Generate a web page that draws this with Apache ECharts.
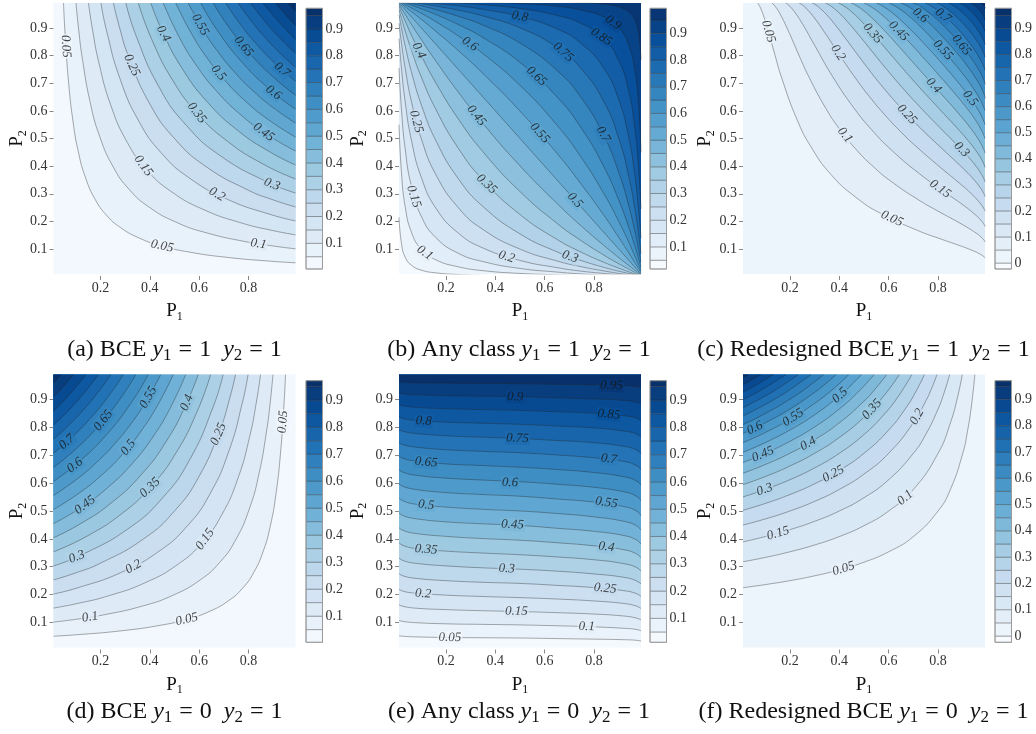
<!DOCTYPE html>
<html><head><meta charset="utf-8">
<script src="https://cdn.jsdelivr.net/npm/echarts@6/dist/echarts.min.js"></script>
<style>html,body{margin:0;padding:0;background:#fff}#c{width:1036px;height:734px}</style>
</head><body><div id="c"></div>
<script>
// ---------------- DATA ----------------
const LEVELS = [0.05,0.1,0.15,0.2,0.25,0.3,0.35,0.4,0.45,0.5,0.55,0.6,0.65,0.7,0.75,0.8,0.85,0.9,0.95];
const X_TICKS = [0.2,0.4,0.6,0.8];
const Y_TICKS = [0.1,0.2,0.3,0.4,0.5,0.6,0.7,0.8,0.9];
const CB_TICKS = [0.1,0.2,0.3,0.4,0.5,0.6,0.7,0.8,0.9];
const CB_TICKS0 = [0,0.1,0.2,0.3,0.4,0.5,0.6,0.7,0.8,0.9];

// (a) BCE y1=1 y2=1 : contour lines [x,y,x,y,...] per level
const A_CURVES = [
[0.0505,0.99,0.0559,0.894,0.0699,0.7155,0.0894,0.559,0.1118,0.447,0.1398,0.3578,0.1789,0.2795,0.2236,0.2236,0.2795,0.1789,0.3578,0.1398,0.447,0.1118,0.559,0.0894,0.7155,0.0699,0.894,0.0559,0.99,0.0505],
[0.101,0.99,0.1129,0.8854,0.1265,0.7906,0.1581,0.6325,0.1976,0.506,0.253,0.3953,0.3162,0.3162,0.3953,0.253,0.506,0.1976,0.6325,0.1581,0.7906,0.1265,0.8854,0.1129,0.99,0.101],
[0.1515,0.99,0.1684,0.8908,0.1936,0.7746,0.2421,0.6197,0.3098,0.4841,0.3873,0.3873,0.4841,0.3098,0.6197,0.2421,0.7746,0.1936,0.8908,0.1684,0.99,0.1515],
[0.202,0.99,0.2236,0.8944,0.2795,0.7155,0.3578,0.559,0.4472,0.4472,0.559,0.3578,0.7155,0.2795,0.8944,0.2236,0.99,0.202],
[0.2525,0.99,0.2778,0.9,0.3125,0.8,0.4,0.625,0.5,0.5,0.625,0.4,0.8,0.3125,0.9,0.2778,0.99,0.2525],
[0.303,0.99,0.3423,0.8763,0.4382,0.6846,0.5477,0.5477,0.6846,0.4382,0.8763,0.3423,0.99,0.303],
[0.3535,0.99,0.408,0.8578,0.493,0.7099,0.5916,0.5916,0.7099,0.493,0.8578,0.408,0.99,0.3535],
[0.404,0.99,0.4518,0.8855,0.527,0.759,0.6325,0.6325,0.759,0.527,0.8855,0.4518,0.99,0.404],
[0.4545,0.99,0.516,0.872,0.5833,0.7714,0.6708,0.6708,0.7714,0.5833,0.872,0.516,0.99,0.4545],
[0.505,0.99,0.5657,0.8839,0.6313,0.792,0.7071,0.7071,0.792,0.6313,0.8839,0.5657,0.99,0.505],
[0.5556,0.99,0.618,0.8899,0.6742,0.8158,0.7416,0.7416,0.8158,0.6742,0.8899,0.618,0.99,0.5556],
[0.6061,0.99,0.6736,0.8908,0.7746,0.7746,0.8908,0.6736,0.99,0.6061],
[0.6566,0.99,0.7198,0.903,0.8062,0.8062,0.903,0.7198,0.99,0.6566],
[0.7071,0.99,0.7676,0.912,0.8367,0.8367,0.912,0.7676,0.99,0.7071],
[0.7576,0.99,0.8093,0.9266,0.866,0.866,0.9266,0.8093,0.99,0.7576],
[0.8081,0.99,0.8518,0.9391,0.8944,0.8944,0.9391,0.8518,0.99,0.8081],
[0.8586,0.99,0.8908,0.9543,0.922,0.922,0.9543,0.8908,0.99,0.8586],
[0.9091,0.99,0.9487,0.9487,0.99,0.9091],
[0.9596,0.99,0.9747,0.9747,0.99,0.9596]];
const A_LABELS = [[0.05,0.06,0.833],[0.05,0.45,0.111],[0.1,0.84,0.119],[0.15,0.374,0.401],[0.2,0.672,0.298],[0.25,0.327,0.765],[0.3,0.895,0.335],[0.35,0.59,0.593],[0.4,0.455,0.879],[0.45,0.861,0.523],[0.5,0.678,0.737],[0.55,0.604,0.911],[0.6,0.901,0.666],[0.65,0.78,0.833],[0.7,0.935,0.749]];
const A_ZRANGE = [0.004,0.977];

// (b) Any class y1=1 y2=1 : shared P1 samples, P2 of each level
const B_X = [0.01,0.02,0.035,0.06,0.1,0.16,0.25,0.35,0.5,0.65,0.75,0.84,0.9,0.94,0.965,0.98,0.99];
const B_Y = [
[0.215,0.12,0.071,0.042,0.024,0.014,0.008,0.005,0.003,0.001,0.001,0.001,0,0,0,0,0],
[0.55,0.377,0.254,0.162,0.1,0.061,0.036,0.022,0.012,0.007,0.004,0.002,0.001,0.001,0,0,0],
[0.755,0.604,0.462,0.328,0.219,0.141,0.085,0.055,0.03,0.017,0.01,0.006,0.004,0.002,0.001,0.001,0],
[0.861,0.754,0.633,0.495,0.36,0.247,0.158,0.104,0.059,0.033,0.02,0.012,0.007,0.004,0.002,0.001,0.001],
[0.917,0.845,0.754,0.635,0.5,0.368,0.25,0.171,0.1,0.057,0.036,0.021,0.012,0.007,0.004,0.002,0.001],
[0.948,0.9,0.835,0.742,0.623,0.491,0.355,0.254,0.155,0.09,0.058,0.034,0.02,0.012,0.007,0.004,0.002],
[0.966,0.934,0.889,0.82,0.723,0.604,0.465,0.35,0.225,0.135,0.088,0.052,0.031,0.018,0.01,0.006,0.003],
[0.978,0.956,0.925,0.874,0.8,0.7,0.571,0.452,0.308,0.193,0.129,0.078,0.047,0.028,0.016,0.009,0.004],
[0.985,0.97,0.949,0.913,0.858,0.779,0.668,0.554,0.401,0.265,0.182,0.113,0.069,0.041,0.024,0.014,0.007],
[0.99,0.98,0.965,0.94,0.9,0.84,0.75,0.65,0.5,0.35,0.25,0.16,0.1,0.06,0.035,0.02,0.01],
[0.993,0.987,0.976,0.959,0.931,0.887,0.818,0.735,0.599,0.446,0.332,0.222,0.142,0.087,0.051,0.03,0.015],
[0.996,0.991,0.984,0.972,0.953,0.922,0.871,0.807,0.692,0.548,0.429,0.3,0.2,0.126,0.075,0.044,0.022],
[0.997,0.994,0.99,0.982,0.969,0.948,0.912,0.865,0.775,0.65,0.535,0.397,0.277,0.18,0.111,0.066,0.034],
[0.998,0.996,0.993,0.988,0.98,0.966,0.942,0.91,0.845,0.746,0.645,0.509,0.377,0.258,0.165,0.1,0.052],
[0.999,0.998,0.996,0.993,0.988,0.979,0.964,0.943,0.9,0.829,0.75,0.632,0.5,0.365,0.246,0.155,0.083],
[0.999,0.999,0.998,0.996,0.993,0.988,0.98,0.967,0.941,0.896,0.842,0.753,0.64,0.505,0.367,0.246,0.139],
[1,0.999,0.999,0.998,0.997,0.994,0.99,0.984,0.97,0.945,0.915,0.86,0.781,0.672,0.538,0.396,0.245],
[1,1,1,0.999,0.999,0.998,0.996,0.993,0.988,0.978,0.964,0.939,0.9,0.838,0.746,0.623,0.45],
[1,1,1,1,1,0.999,0.999,0.999,0.997,0.995,0.992,0.986,0.976,0.958,0.929,0.881,0.785]];
const B_LABELS = [[0.1,0.115,0.087],[0.15,0.07,0.29],[0.2,0.446,0.072],[0.25,0.08,0.561],[0.3,0.703,0.072],[0.35,0.365,0.335],[0.4,0.09,0.818],[0.45,0.324,0.583],[0.5,0.723,0.277],[0.55,0.58,0.52],[0.6,0.297,0.842],[0.65,0.567,0.725],[0.7,0.837,0.515],[0.75,0.675,0.8125],[0.8,0.5,0.941],[0.85,0.83,0.868],[0.9,0.877,0.919]];
const B_ZRANGE = [0.017,0.994];

// (c) Redesigned BCE y1=1 y2=1
const C_CURVES = [
[0.0687,0.9905,0.0731,0.985,0.0826,0.9686,0.0961,0.9363,0.1127,0.8873,0.1347,0.817,0.1672,0.7176,0.2287,0.5686,0.2841,0.4718,0.368,0.368,0.4718,0.2841,0.5686,0.2287,0.7176,0.1672,0.817,0.1347,0.8873,0.1127,0.9363,0.0961,0.9686,0.0826,0.985,0.0731,0.9905,0.0687],
[0.1261,0.9911,0.1318,0.9865,0.1438,0.9738,0.157,0.9555,0.1895,0.8972,0.2381,0.798,0.2764,0.7236,0.3422,0.6137,0.3974,0.5385,0.4642,0.4642,0.5385,0.3974,0.6137,0.3422,0.7236,0.2764,0.798,0.2381,0.8972,0.1895,0.9555,0.157,0.9738,0.1438,0.9865,0.1318,0.9911,0.1261],
[0.1816,0.9912,0.1932,0.9833,0.2058,0.972,0.2195,0.957,0.2521,0.9125,0.2969,0.842,0.3726,0.7246,0.457,0.6127,0.5313,0.5313,0.6127,0.457,0.7246,0.3726,0.842,0.2969,0.9125,0.2521,0.957,0.2195,0.972,0.2058,0.9833,0.1932,0.9912,0.1816],
[0.2372,0.9906,0.2431,0.9873,0.2554,0.979,0.2686,0.968,0.2991,0.9361,0.3384,0.8866,0.3953,0.8095,0.4708,0.7116,0.5218,0.6516,0.5848,0.5848,0.6516,0.5218,0.7116,0.4708,0.8095,0.3953,0.8866,0.3384,0.9361,0.2991,0.968,0.2686,0.979,0.2554,0.9873,0.2431,0.9906,0.2372],
[0.2896,0.9912,0.3053,0.9827,0.3183,0.9738,0.348,0.9482,0.3851,0.9089,0.4359,0.8489,0.5254,0.7423,0.5742,0.688,0.63,0.63,0.688,0.5742,0.7423,0.5254,0.8489,0.4359,0.9089,0.3851,0.9482,0.348,0.9738,0.3183,0.9827,0.3053,0.9912,0.2896],
[0.3432,0.9908,0.3492,0.9881,0.3684,0.9772,0.3979,0.9551,0.4341,0.9215,0.4827,0.8701,0.5639,0.7803,0.6288,0.7109,0.6694,0.6694,0.7109,0.6288,0.7803,0.5639,0.8701,0.4827,0.9215,0.4341,0.9551,0.3979,0.9772,0.3684,0.9881,0.3492,0.9908,0.3432],
[0.3957,0.9907,0.4187,0.9793,0.4483,0.9593,0.4845,0.9288,0.5331,0.8817,0.6155,0.7961,0.6597,0.7503,0.7047,0.7047,0.7503,0.6597,0.7961,0.6155,0.8817,0.5331,0.9288,0.4845,0.9593,0.4483,0.9793,0.4187,0.9907,0.3957],
[0.4471,0.9907,0.4692,0.9805,0.4991,0.9617,0.5361,0.9326,0.5863,0.8869,0.6464,0.8277,0.6921,0.7817,0.7368,0.7368,0.7817,0.6921,0.8277,0.6464,0.8869,0.5863,0.9326,0.5361,0.9617,0.4991,0.9805,0.4692,0.9907,0.4471],
[0.5,0.9901,0.5063,0.9875,0.5344,0.973,0.5685,0.95,0.613,0.9135,0.6855,0.8461,0.7327,0.7998,0.7663,0.7663,0.7998,0.7327,0.8461,0.6855,0.9135,0.613,0.95,0.5685,0.973,0.5344,0.9875,0.5063,0.9901,0.5],
[0.5504,0.9902,0.5707,0.9812,0.6025,0.9626,0.6433,0.9327,0.7056,0.8787,0.7544,0.8325,0.7937,0.7937,0.8325,0.7544,0.8787,0.7056,0.9327,0.6433,0.9626,0.6025,0.9812,0.5707,0.9902,0.5504],
[0.601,0.99,0.6077,0.9874,0.6377,0.9723,0.6757,0.9471,0.7322,0.9014,0.79,0.8481,0.8193,0.8193,0.8481,0.79,0.9014,0.7322,0.9471,0.6757,0.9723,0.6377,0.9874,0.6077,0.99,0.601],
[0.6452,0.992,0.6736,0.9798,0.7095,0.9584,0.7624,0.9182,0.8066,0.879,0.8434,0.8434,0.879,0.8066,0.9182,0.7624,0.9584,0.7095,0.9798,0.6736,0.992,0.6452],
[0.696,0.9914,0.7102,0.9857,0.7443,0.9674,0.7951,0.9308,0.8408,0.8909,0.8662,0.8662,0.8909,0.8408,0.9308,0.7951,0.9674,0.7443,0.9857,0.7102,0.9914,0.696],
[0.7472,0.9904,0.7797,0.9747,0.8296,0.9402,0.8647,0.9101,0.8879,0.8879,0.9101,0.8647,0.9402,0.8296,0.9747,0.7797,0.9904,0.7472],
[0.7944,0.9907,0.8158,0.9807,0.8496,0.9593,0.8869,0.9291,0.9086,0.9086,0.9291,0.8869,0.9593,0.8496,0.9807,0.8158,0.9907,0.7944],
[0.8405,0.9911,0.8521,0.9858,0.8728,0.9739,0.9075,0.9477,0.9283,0.9283,0.9477,0.9075,0.9739,0.8728,0.9858,0.8521,0.9911,0.8405],
[0.8888,0.9901,0.9099,0.9782,0.9318,0.9616,0.9473,0.9473,0.9616,0.9318,0.9782,0.9099,0.9901,0.8888],
[0.9311,0.9913,0.9537,0.9762,0.9655,0.9655,0.9762,0.9537,0.9913,0.9311],
[0.9686,0.9943,0.974,0.9908,0.983,0.983,0.9908,0.974,0.9943,0.9686]];
const C_LABELS = [[0.05,0.113,0.887],[0.05,0.613,0.21],[0.1,0.423,0.512],[0.15,0.809,0.318],[0.2,0.395,0.81],[0.25,0.674,0.587],[0.3,0.895,0.46],[0.35,0.535,0.88],[0.4,0.782,0.692],[0.45,0.64,0.888],[0.5,0.93,0.645],[0.55,0.82,0.82],[0.6,0.728,0.945],[0.65,0.895,0.838],[0.7,0.82,0.945]];
const C_ZRANGE = [-0.023,0.977];

// (d) BCE y1=0 y2=1
const D_CURVES = [
[0.01,0.0505,0.106,0.0559,0.2845,0.0699,0.441,0.0894,0.553,0.1118,0.6422,0.1398,0.7205,0.1789,0.7764,0.2236,0.8211,0.2795,0.8602,0.3578,0.8882,0.447,0.9106,0.559,0.9301,0.7155,0.9441,0.894,0.9495,0.99],
[0.01,0.101,0.1146,0.1129,0.2094,0.1265,0.3675,0.1581,0.494,0.1976,0.6047,0.253,0.6838,0.3162,0.747,0.3953,0.8024,0.506,0.8419,0.6325,0.8735,0.7906,0.8871,0.8854,0.899,0.99],
[0.01,0.1515,0.1092,0.1684,0.2254,0.1936,0.3803,0.2421,0.5159,0.3098,0.6127,0.3873,0.6902,0.4841,0.7579,0.6197,0.8064,0.7746,0.8316,0.8908,0.8485,0.99],
[0.01,0.202,0.1056,0.2236,0.2845,0.2795,0.441,0.3578,0.5528,0.4472,0.6422,0.559,0.7205,0.7155,0.7764,0.8944,0.798,0.99],
[0.01,0.2525,0.1,0.2778,0.2,0.3125,0.375,0.4,0.5,0.5,0.6,0.625,0.6875,0.8,0.7222,0.9,0.7475,0.99],
[0.01,0.303,0.1237,0.3423,0.3154,0.4382,0.4523,0.5477,0.5618,0.6846,0.6577,0.8763,0.697,0.99],
[0.01,0.3535,0.1422,0.408,0.2901,0.493,0.4084,0.5916,0.507,0.7099,0.592,0.8578,0.6465,0.99],
[0.01,0.404,0.1145,0.4518,0.241,0.527,0.3675,0.6325,0.473,0.759,0.5482,0.8855,0.596,0.99],
[0.01,0.4545,0.128,0.516,0.2286,0.5833,0.3292,0.6708,0.4167,0.7714,0.484,0.872,0.5455,0.99],
[0.01,0.505,0.1161,0.5657,0.208,0.6313,0.2929,0.7071,0.3687,0.792,0.4343,0.8839,0.495,0.99],
[0.01,0.5556,0.1101,0.618,0.1842,0.6742,0.2584,0.7416,0.3258,0.8158,0.382,0.8899,0.4444,0.99],
[0.01,0.6061,0.1092,0.6736,0.2254,0.7746,0.3264,0.8908,0.3939,0.99],
[0.01,0.6566,0.097,0.7198,0.1938,0.8062,0.2802,0.903,0.3434,0.99],
[0.01,0.7071,0.088,0.7676,0.1633,0.8367,0.2324,0.912,0.2929,0.99],
[0.01,0.7576,0.0734,0.8093,0.134,0.866,0.1907,0.9266,0.2424,0.99],
[0.01,0.8081,0.0609,0.8518,0.1056,0.8944,0.1482,0.9391,0.1919,0.99],
[0.01,0.8586,0.0457,0.8908,0.078,0.922,0.1092,0.9543,0.1414,0.99],
[0.01,0.9091,0.0513,0.9487,0.0909,0.99],
[0.01,0.9596,0.0253,0.9747,0.0404,0.99]];
const D_LABELS = [[0.05,0.939,0.82],[0.05,0.55,0.111],[0.1,0.158,0.119],[0.15,0.624,0.399],[0.2,0.334,0.3],[0.25,0.678,0.776],[0.3,0.104,0.335],[0.35,0.401,0.584],[0.4,0.55,0.889],[0.45,0.138,0.522],[0.5,0.313,0.728],[0.55,0.394,0.908],[0.6,0.097,0.664],[0.65,0.212,0.825],[0.7,0.064,0.748]];
const D_ZRANGE = [0.003,0.972];

// (e) Any class y1=0 y2=1 : shared P1 samples
const E_X = [0.01,0.03,0.08,0.2,0.35,0.5,0.65,0.8,0.92,0.97,0.99];
const E_Y = [
[0.052,0.05,0.048,0.046,0.045,0.044,0.042,0.04,0.038,0.036,0.033],
[0.107,0.103,0.099,0.095,0.093,0.091,0.088,0.084,0.079,0.075,0.07],
[0.163,0.157,0.151,0.146,0.142,0.139,0.135,0.13,0.123,0.116,0.109],
[0.219,0.211,0.205,0.198,0.193,0.189,0.184,0.177,0.168,0.159,0.15],
[0.275,0.266,0.258,0.25,0.244,0.24,0.233,0.225,0.214,0.204,0.193],
[0.331,0.321,0.312,0.303,0.296,0.291,0.284,0.274,0.262,0.25,0.238],
[0.386,0.375,0.365,0.356,0.349,0.343,0.335,0.325,0.311,0.298,0.284],
[0.44,0.429,0.419,0.409,0.401,0.395,0.386,0.375,0.361,0.347,0.332],
[0.493,0.482,0.472,0.461,0.454,0.448,0.438,0.427,0.412,0.397,0.381],
[0.546,0.535,0.524,0.514,0.506,0.5,0.491,0.479,0.463,0.448,0.432],
[0.597,0.587,0.577,0.566,0.559,0.553,0.543,0.532,0.516,0.501,0.484],
[0.648,0.638,0.628,0.618,0.611,0.605,0.596,0.585,0.569,0.554,0.538],
[0.697,0.688,0.679,0.669,0.663,0.657,0.649,0.638,0.623,0.609,0.593],
[0.745,0.737,0.729,0.72,0.714,0.709,0.701,0.691,0.678,0.664,0.649],
[0.792,0.785,0.778,0.77,0.765,0.76,0.753,0.745,0.732,0.72,0.706],
[0.838,0.831,0.825,0.819,0.815,0.811,0.805,0.798,0.787,0.777,0.765],
[0.881,0.877,0.872,0.867,0.864,0.861,0.856,0.851,0.842,0.834,0.824],
[0.924,0.92,0.917,0.914,0.912,0.91,0.906,0.902,0.897,0.891,0.884],
[0.964,0.962,0.96,0.959,0.958,0.957,0.955,0.953,0.95,0.947,0.944]];
const E_LABELS = [[0.05,0.216,0.046],[0.1,0.77,0.085],[0.15,0.486,0.14],[0.2,0.108,0.203],[0.25,0.845,0.222],[0.3,0.446,0.293],[0.35,0.12,0.362],[0.4,0.85,0.371],[0.45,0.47,0.451],[0.5,0.12,0.522],[0.55,0.85,0.53],[0.6,0.46,0.602],[0.65,0.12,0.675],[0.7,0.86,0.687],[0.75,0.49,0.761],[0.8,0.11,0.823],[0.85,0.86,0.847],[0.9,0.48,0.91],[0.95,0.87,0.951]];
const E_ZRANGE = [0.012,0.971];

// (f) Redesigned BCE y1=0 y2=1
const F_CURVES = [
[0.01,0.2247,0.1,0.2357,0.2,0.25,0.3,0.2673,0.4,0.2887,0.5,0.3162,0.6,0.3536,0.7,0.4082,0.8,0.5,0.85,0.5774,0.9,0.7071,0.92,0.7906,0.935,0.877,0.949,0.9901],
[0.01,0.3178,0.1,0.3333,0.2,0.3536,0.3,0.378,0.4,0.4082,0.5,0.4472,0.6,0.5,0.7,0.5774,0.8,0.7071,0.85,0.8165,0.88,0.9129,0.898,0.9901],
[0.01,0.3892,0.1,0.4082,0.2,0.433,0.3,0.4629,0.4,0.5,0.5,0.5477,0.6,0.6124,0.7,0.7071,0.75,0.7746,0.8,0.866,0.825,0.9258,0.847,0.9901],
[0.01,0.4495,0.1,0.4714,0.2,0.5,0.3,0.5345,0.4,0.5774,0.5,0.6325,0.6,0.7071,0.7,0.8165,0.75,0.8944,0.775,0.9428,0.796,0.9901],
[0.01,0.5025,0.1,0.527,0.2,0.559,0.3,0.5976,0.4,0.6455,0.5,0.7071,0.6,0.7906,0.67,0.8704,0.71,0.9285,0.745,0.9901],
[0.01,0.5505,0.1,0.5774,0.2,0.6124,0.3,0.6547,0.4,0.7071,0.5,0.7746,0.58,0.8452,0.64,0.9129,0.694,0.9901],
[0.01,0.5946,0.1,0.6236,0.2,0.6614,0.3,0.7071,0.4,0.7638,0.5,0.8367,0.58,0.9129,0.643,0.9901],
[0.01,0.6356,0.1,0.6667,0.2,0.7071,0.3,0.7559,0.4,0.8165,0.5,0.8944,0.55,0.9428,0.592,0.9901],
[0.01,0.6742,0.1,0.7071,0.2,0.75,0.3,0.8018,0.4,0.866,0.48,0.9303,0.541,0.9901],
[0.01,0.7107,0.1,0.7454,0.2,0.7906,0.3,0.8452,0.4,0.9129,0.45,0.9535,0.49,0.9901],
[0.01,0.7454,0.1,0.7817,0.2,0.8292,0.3,0.8864,0.38,0.9418,0.439,0.9901],
[0.01,0.7785,0.1,0.8165,0.2,0.866,0.3,0.9258,0.35,0.9608,0.388,0.9901],
[0.01,0.8103,0.1,0.8498,0.2,0.9014,0.27,0.9436,0.337,0.9901],
[0.01,0.8409,0.1,0.8819,0.15,0.9075,0.2,0.9354,0.286,0.9901],
[0.01,0.8704,0.1,0.9129,0.16,0.9449,0.235,0.9901],
[0.01,0.8989,0.08,0.9325,0.13,0.9589,0.184,0.9901],
[0.01,0.9266,0.07,0.956,0.133,0.9901],
[0.01,0.9535,0.05,0.9733,0.082,0.9901],
[0.01,0.9796,0.031,0.9901]];
const F_LABELS = [[0.05,0.417,0.293],[0.1,0.667,0.548],[0.15,0.152,0.42],[0.2,0.715,0.838],[0.25,0.376,0.633],[0.3,0.098,0.577],[0.35,0.532,0.865],[0.4,0.274,0.742],[0.45,0.091,0.704],[0.5,0.403,0.915],[0.55,0.213,0.836],[0.6,0.058,0.798]];
const F_ZRANGE = [-0.024,0.971];

const CAPTIONS = [
  ['(a) BCE ','1','1'],['(b) Any class ','1','1'],['(c) Redesigned BCE ','1','1'],
  ['(d) BCE ','0','1'],['(e) Any class ','0','1'],['(f) Redesigned BCE ','0','1']];

// ---------------- helpers / styling ----------------
const SERIF = "'Liberation Serif','DejaVu Serif',serif";
const BLUES = [[247,251,255],[222,235,247],[198,219,239],[158,202,225],[107,174,214],[66,146,198],[33,113,181],[8,81,156],[8,48,107]];
function blues(t){ t=Math.max(0,Math.min(1,t)); const s=t*8; const i=Math.min(7,Math.floor(s)); const f=s-i; const a=BLUES[i], b=BLUES[i+1];
  return 'rgb('+a.map((v,k)=>Math.round(v+(b[k]-v)*f)).join(',')+')'; }
function pairs(flat){ const o=[]; for(let i=0;i<flat.length;i+=2) o.push([flat[i],flat[i+1]]); return o; }
function zip(xs,ys){ return xs.map((x,i)=>[x,ys[i]]); }
function bandColor(zr, lo){ return blues((lo+0.025-zr[0])/(zr[1]-zr[0])); }
function levelColor(zr, v){ return blues((v-zr[0])/(zr[1]-zr[0])); }

const COLS=[53.5,399,743], PW=242, ROWS=[3,374.5], PH=[271,273];
const CBX=[306,650,995], CBW=16.5, CBT=[8.3,380.7], CBH=[260.7,261.6];
const LINE='rgba(35,35,35,0.5)';
const SMOOTH=0.5;

const PANELS = [
  {curves:A_CURVES.map(pairs), labels:A_LABELS, zr:A_ZRANGE, cbt:CB_TICKS},
  {curves:B_Y.map(y=>zip(B_X,y)), labels:B_LABELS, zr:B_ZRANGE, cbt:CB_TICKS},
  {curves:C_CURVES.map(pairs), labels:C_LABELS, zr:C_ZRANGE, cbt:CB_TICKS0},
  {curves:D_CURVES.map(pairs), labels:D_LABELS, zr:D_ZRANGE, cbt:CB_TICKS},
  {curves:E_Y.map(y=>zip(E_X,y)), labels:E_LABELS, zr:E_ZRANGE, cbt:CB_TICKS},
  {curves:F_CURVES.map(pairs), labels:F_LABELS, zr:F_ZRANGE, cbt:CB_TICKS0}];

function angleAt(pts, x, y, sx, sy){
  let best=1e18, ang=0;
  for(let i=0;i<pts.length-1;i++){
    const ax=pts[i][0]*sx, ay=pts[i][1]*sy, bx=pts[i+1][0]*sx, by=pts[i+1][1]*sy, px=x*sx, py=y*sy;
    const dx=bx-ax, dy=by-ay, L=dx*dx+dy*dy||1e-9; let t=((px-ax)*dx+(py-ay)*dy)/L; t=Math.max(0,Math.min(1,t));
    const qx=ax+t*dx-px, qy=ay+t*dy-py, d=qx*qx+qy*qy;
    if(d<best){ best=d; ang=Math.atan2(dy,dx)*180/Math.PI; }
  }
  if(ang>90) ang-=180; if(ang<-90) ang+=180; return ang;
}

const grids=[], xAxes=[], yAxes=[], series=[], graphics=[];
const tickLabel={fontFamily:SERIF, fontSize:14, color:'#333'};

PANELS.forEach((P,k)=>{
  const col=k%3, row=Math.floor(k/3);
  grids.push({left:COLS[col], top:ROWS[row], width:PW, height:PH[row], show:true, borderWidth:0, backgroundColor:bandColor(P.zr,0)});
  xAxes.push({gridIndex:k, type:'value', min:0.01, max:0.99, offset:2,
    axisLine:{show:false}, splitLine:{show:false},
    axisTick:{show:true, length:4, lineStyle:{color:'#888', width:1}, customValues:X_TICKS},
    axisLabel:Object.assign({customValues:X_TICKS, margin:5}, tickLabel)});
  yAxes.push({gridIndex:k, type:'value', min:0.01, max:0.99,
    axisLine:{show:false}, splitLine:{show:false},
    axisTick:{show:true, length:4, lineStyle:{color:'#888', width:1}, customValues:Y_TICKS},
    axisLabel:Object.assign({customValues:Y_TICKS, margin:6}, tickLabel)});
  const sx=PW/0.98, sy=PH[row]/0.98;
  P.curves.forEach((pts,i)=>{
    const lv=LEVELS[i];
    series.push({type:'line', xAxisIndex:k, yAxisIndex:k, data:pts, smooth:SMOOTH, symbol:'none', showSymbol:false,
      silent:true, animation:false, clip:true, z:2, lineStyle:{width:0, opacity:0},
      areaStyle:{origin:'end', color:bandColor(P.zr,lv), opacity:1}});
  });
  P.curves.forEach((pts,i)=>{
    series.push({type:'line', xAxisIndex:k, yAxisIndex:k, data:pts, smooth:SMOOTH, symbol:'none', showSymbol:false,
      silent:true, animation:false, clip:true, z:3, lineStyle:{width:0.75, color:LINE}});
  });
  series.push({type:'scatter', xAxisIndex:k, yAxisIndex:k, symbolSize:0, silent:true, animation:false, z:5,
    itemStyle:{color:'transparent'},
    label:{show:true, position:'inside', fontFamily:SERIF, fontStyle:'italic', fontSize:13, color:'#151515', padding:[0,1]},
    data:P.labels.map(l=>{ const idx=LEVELS.indexOf(l[0]);
      return {value:[l[1],l[2]], label:{formatter:String(l[0]), rotate:angleAt(P.curves[idx],l[1],l[2],sx,sy), backgroundColor:levelColor(P.zr,l[0])}}; })});
});

// colour bars
PANELS.forEach((P,k)=>{
  const col=k%3, row=Math.floor(k/3), g=6+k;
  grids.push({left:CBX[col], top:CBT[row], width:CBW, height:CBH[row], show:false});
  xAxes.push({gridIndex:g, type:'value', min:0, max:1, show:false});
  yAxes.push({gridIndex:g, type:'value', min:P.zr[0], max:P.zr[1], position:'right',
    axisLine:{show:false}, axisTick:{show:false}, splitLine:{show:false},
    axisLabel:Object.assign({customValues:P.cbt, margin:3}, tickLabel)});
  const bands=[], cols=[];
  const m0=Math.floor(P.zr[0]/0.05+1e-6), m1=Math.ceil(P.zr[1]/0.05-1e-6);
  for(let m=m0;m<m1;m++){ const lo=m*0.05; bands.push([Math.max(lo,P.zr[0]), Math.min(lo+0.05,P.zr[1]), bands.length]); cols.push(bandColor(P.zr,lo)); }
  series.push({type:'custom', xAxisIndex:g, yAxisIndex:g, silent:true, animation:false, z:2, data:bands,
    renderItem:(params,api)=>{ const a=api.coord([0,api.value(0)]), b=api.coord([1,api.value(1)]);
      return {type:'rect', shape:{x:a[0], y:b[1], width:b[0]-a[0], height:a[1]-b[1]},
        style:{fill:cols[api.value(2)], stroke:'rgba(35,35,35,0.45)', lineWidth:0.7}}; }});
  graphics.push({type:'rect', z:100, silent:true, shape:{x:CBX[col], y:CBT[row], width:CBW, height:CBH[row]},
    style:{fill:'none', stroke:'#9a9a9a', lineWidth:1}});
});

// axis titles and captions
const richBase={fontFamily:SERIF, fill:'#111'};
function axisTitle(x,y,sub,rot){
  return {type:'text', x:x, y:y, rotation:rot, z:100, silent:true,
    style:{text:'{p|P}{s|'+sub+'}', align:'center', verticalAlign:'middle', textAlign:'center', textVerticalAlign:'middle',
      rich:{p:Object.assign({fontSize:19, lineHeight:22},richBase), s:Object.assign({fontSize:12, lineHeight:12, verticalAlign:'bottom'},richBase)}}};
}
const YT_X=[17.5,358,705.5];
for(let k=0;k<6;k++){
  const col=k%3,row=Math.floor(k/3);
  graphics.push(axisTitle(COLS[col]+PW/2, ROWS[row]+PH[row]+37.5, '1', 0));
  graphics.push(axisTitle(YT_X[col], ROWS[row]+PH[row]/2, '2', Math.PI/2));
}
const CAP_X=[174.5,519,863.5], CAP_Y=[350,712];
CAPTIONS.forEach((c,k)=>{
  const col=k%3,row=Math.floor(k/3);
  graphics.push({type:'text', x:CAP_X[col], y:CAP_Y[row], z:100, silent:true,
    style:{text:'{r|'+c[0]+'}{i|y}{s|1}{e|=}{r|'+c[1]+'  }{i|y}{s|2}{e|=}{r|'+c[2]+'}',
      align:'center', verticalAlign:'middle', textAlign:'center', textVerticalAlign:'middle',
      rich:{r:Object.assign({fontSize:24, lineHeight:28},richBase),
            i:Object.assign({fontSize:24, lineHeight:28, fontStyle:'italic'},richBase),
            e:Object.assign({fontSize:24, lineHeight:28, padding:[0,7,0,7]},richBase),
            s:Object.assign({fontSize:17, lineHeight:17, verticalAlign:'bottom'},richBase)}}});
});

const chart = echarts.init(document.getElementById('c'), null, {renderer:'canvas', width:1036, height:734});
chart.setOption({animation:false, backgroundColor:'#fff', grid:grids, xAxis:xAxes, yAxis:yAxes, series:series, graphic:graphics});
</script></body></html>
